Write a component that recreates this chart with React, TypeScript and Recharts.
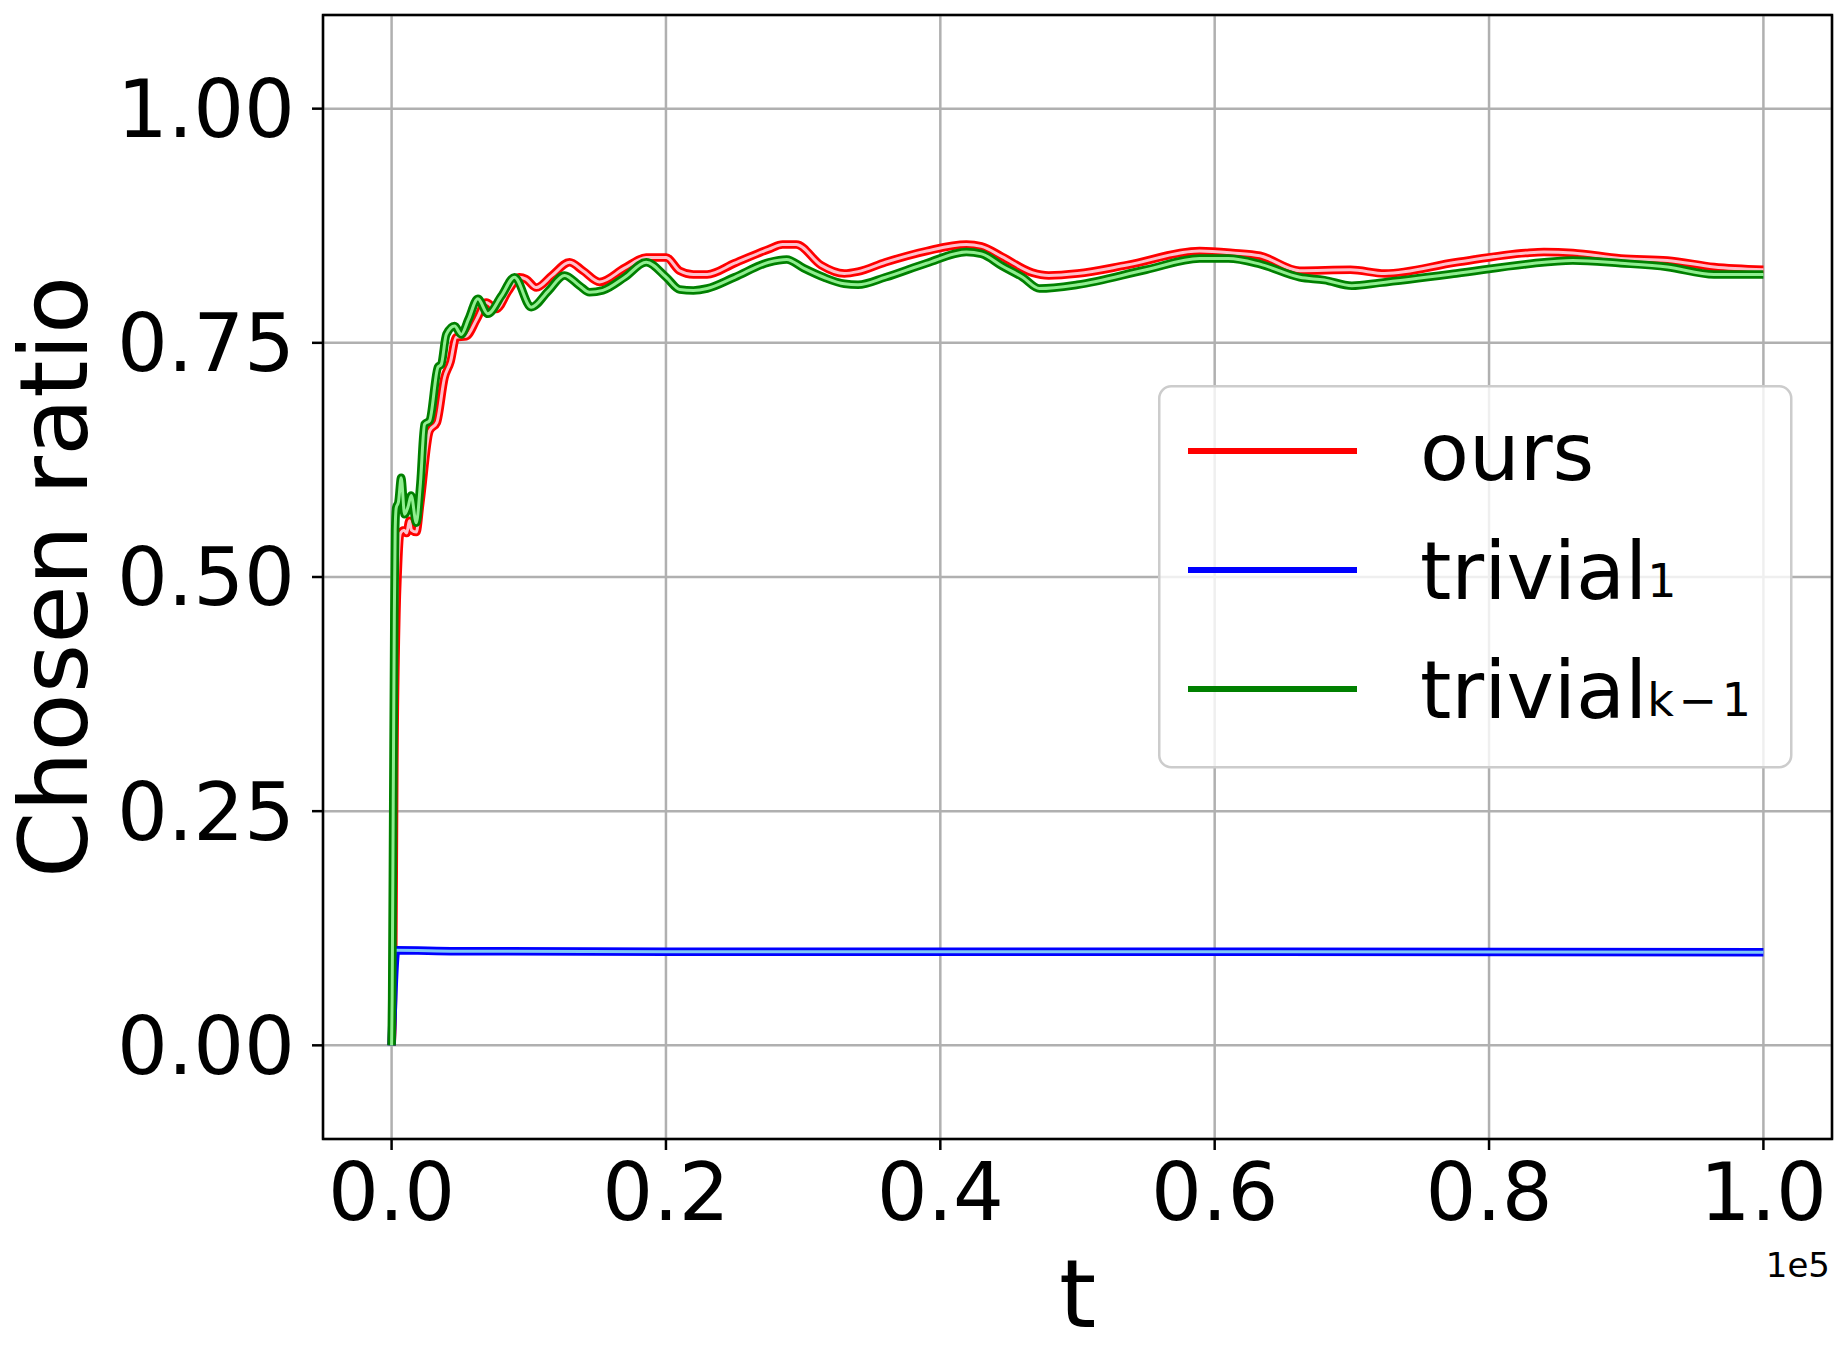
import { CartesianGrid, Label, Legend, Line, LineChart, ReferenceArea, XAxis, YAxis } from "recharts";

const FONT = "DejaVu Sans";

// x ticks (t, shown in units of 1e5) and y ticks
const xTicks = [0, 20000, 40000, 60000, 80000, 100000];
const yTicks = [0, 0.25, 0.5, 0.75, 1.0];

// ours (red)
const oursT = [0, 100, 200, 350, 450, 650, 900, 1100, 1300, 1450, 1800, 2100, 2770, 3300, 3860, 4300, 4710, 5440, 6200, 6900, 7630, 8500, 9330, 9800, 10550, 11700, 12970, 13950, 15160, 17000, 18560, 20020, 20990, 22000, 23000, 25000, 27500, 28500, 29500, 31300, 33000, 34000, 36000, 39000, 41900, 43000, 44500, 46700, 47900, 50000, 53600, 58900, 61300, 63300, 66200, 69900, 72400, 77600, 82700, 84000, 86100, 89600, 93000, 96400, 100000];
const oursV = [0.0, 0.05, 0.3, 0.46, 0.506, 0.547, 0.55, 0.547, 0.56, 0.55, 0.548, 0.58, 0.656, 0.665, 0.713, 0.73, 0.756, 0.757, 0.775, 0.793, 0.786, 0.805, 0.82, 0.818, 0.809, 0.822, 0.836, 0.827, 0.815, 0.83, 0.841, 0.841, 0.827, 0.823, 0.823, 0.835, 0.85, 0.855, 0.855, 0.833, 0.824, 0.826, 0.836, 0.848, 0.855, 0.853, 0.842, 0.825, 0.822, 0.824, 0.833, 0.848, 0.846, 0.843, 0.827, 0.828, 0.824, 0.836, 0.846, 0.847, 0.846, 0.84, 0.838, 0.831, 0.828];

// trivial_1 (blue)
const trivial1T = [0, 340, 4700, 20000, 60000, 100000];
const trivial1V = [0.0, 0.1015, 0.1005, 0.1, 0.1, 0.0995];

// trivial_{k-1} (green)
const trivialKT = [0, 40, 120, 200, 260, 340, 500, 700, 950, 1200, 1430, 1800, 2100, 2400, 2770, 3380, 3620, 3990, 4590, 5080, 5600, 6290, 7020, 8000, 8960, 10180, 11400, 12610, 13700, 14430, 15400, 17000, 18560, 20020, 21000, 22000, 23000, 25000, 27500, 28800, 30000, 31500, 33000, 34000, 36000, 39000, 41900, 43000, 44500, 46000, 47230, 50000, 55000, 58900, 61000, 63300, 66200, 68000, 70000, 72000, 77600, 82700, 86100, 89600, 93000, 96400, 100000];
const trivialKV = [0.0, 0.05, 0.26, 0.46, 0.55, 0.574, 0.58, 0.606, 0.567, 0.575, 0.587, 0.558, 0.6, 0.663, 0.667, 0.724, 0.727, 0.759, 0.768, 0.759, 0.775, 0.797, 0.781, 0.8, 0.82, 0.788, 0.805, 0.822, 0.811, 0.804, 0.806, 0.82, 0.836, 0.82, 0.807, 0.806, 0.808, 0.82, 0.836, 0.839, 0.83, 0.82, 0.813, 0.812, 0.82, 0.835, 0.847, 0.845, 0.832, 0.82, 0.808, 0.812, 0.828, 0.84, 0.84, 0.834, 0.82, 0.817, 0.811, 0.814, 0.824, 0.834, 0.838, 0.835, 0.831, 0.823, 0.823];

const toData = (ts: number[], vs: number[]) => ts.map((t, i) => ({ t, v: vs[i] }));

const series = [
  { name: "ours", sub: "", data: toData(oursT, oursV), color: "#ff0000", light: "#ffc0cb" },
  { name: "trivial", sub: "1", data: toData(trivial1T, trivial1V), color: "#0000ff", light: "#7ec8f8" },
  { name: "trivial", sub: "k\u200A\u2212\u200A1", data: toData(trivialKT, trivialKV), color: "#008000", light: "#90ee90" },
];

const LegendBox = () => (
  <svg width={635} height={384} style={{ display: "block" }}>
    <rect x={1.25} y={1.25} width={632} height={381} rx={12} ry={12} fill="rgba(255,255,255,0.8)" stroke="#cccccc" strokeWidth={2.5} />
    {series.map((s, i) => (
      <g key={i}>
        <line x1={30} x2={199} y1={66 + i * 119} y2={66 + i * 119} stroke={s.color} strokeWidth={6} />
        <text x={262} y={95 + i * 119} fontFamily={FONT} fontSize={80} fill="#000">
          {s.name}
          {s.sub && (
            <tspan fontSize={46} dy={-2}>{s.sub}</tspan>
          )}
        </text>
      </g>
    ))}
  </svg>
);

export default function App() {
  return (
    <div style={{ position: "absolute", left: 0, top: 0, fontFamily: FONT, background: "#fff" }}>
      <LineChart width={1841} height={1355} margin={{ top: 15, right: 9, bottom: 0, left: 0 }}>
        <CartesianGrid stroke="#b0b0b0" strokeWidth={2.5} />
        <XAxis
          type="number"
          dataKey="t"
          domain={[-5000, 105000]}
          ticks={xTicks}
          interval={0}
          allowDataOverflow
          height={216}
          axisLine={false}
          tickLine={{ stroke: "#000", strokeWidth: 2.5 }}
          tickSize={11}
          tickMargin={13}
          tick={{ fill: "#000", fontSize: 80, fontFamily: FONT }}
          tickFormatter={(v: number) => (v / 1e5).toFixed(1)}
        >
          <Label
            content={({ viewBox }: any) => (
              <text x={viewBox.x + viewBox.width / 2} y={1327} textAnchor="middle" fontFamily={FONT} fontSize={95} fill="#000">
                t
              </text>
            )}
          />
          <Label
            content={({ viewBox }: any) => (
              <text x={viewBox.x + viewBox.width - 2} y={1277} textAnchor="end" fontFamily={FONT} fontSize={34} fill="#000">
                1e5
              </text>
            )}
          />
        </XAxis>
        <YAxis
          type="number"
          domain={[-0.1, 1.1]}
          ticks={yTicks}
          interval={0}
          allowDataOverflow
          width={323}
          axisLine={false}
          tickLine={{ stroke: "#000", strokeWidth: 2.5 }}
          tickSize={11}
          tickMargin={17}
          tick={{ fill: "#000", fontSize: 80, fontFamily: FONT }}
          tickFormatter={(v: number) => v.toFixed(2)}
        >
          <Label
            content={({ viewBox }: any) => {
              const cy = viewBox.y + viewBox.height / 2;
              return (
                <text x={87} y={cy} transform={`rotate(-90, 87, ${cy})`} textAnchor="middle" fontFamily={FONT} fontSize={95} fill="#000">
                  Chosen ratio
                </text>
              );
            }}
          />
        </YAxis>
        {series.flatMap((s, i) => [
          <Line
            key={`o${i}`}
            data={s.data}
            dataKey="v"
            type="monotone"
            stroke={s.color}
            strokeWidth={8.5}
            dot={false}
            activeDot={false}
            isAnimationActive={false}
            legendType="none"
          />,
          <Line
            key={`i${i}`}
            data={s.data}
            dataKey="v"
            type="monotone"
            stroke={s.light}
            strokeWidth={3}
            dot={false}
            activeDot={false}
            isAnimationActive={false}
            legendType="none"
          />,
        ])}
        <ReferenceArea x1={-5000} x2={105000} y1={-0.1} y2={1.1} fill="none" stroke="#000" strokeWidth={2.5} ifOverflow="visible" />
        <Legend
          layout="vertical"
          align="center"
          verticalAlign="middle"
          content={() => <LegendBox />}
          wrapperStyle={{ left: 1158, top: 385, width: 635, height: 384 }}
        />
      </LineChart>
    </div>
  );
}
